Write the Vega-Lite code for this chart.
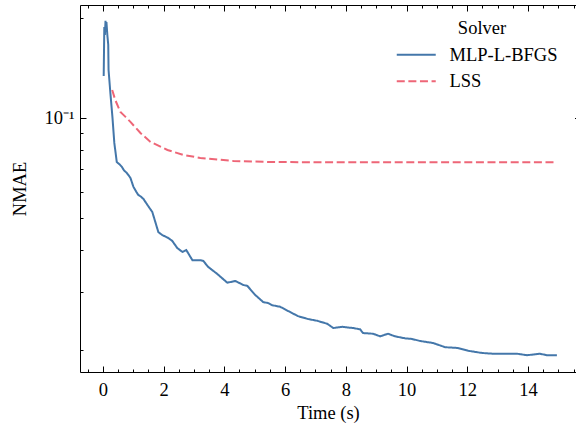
{
  "$schema": "https://vega.github.io/schema/vega-lite/v6.json",
  "autosize": "none",
  "width": 496,
  "height": 367,
  "padding": {"left": 80, "top": 5, "right": 0, "bottom": 53},
  "background": "white",
  "data": {
    "values": [
      {"solver": "MLP-L-BFGS", "t": 0.03, "nmae": 0.1338},
      {"solver": "MLP-L-BFGS", "t": 0.05, "nmae": 0.1879},
      {"solver": "MLP-L-BFGS", "t": 0.07, "nmae": 0.1778},
      {"solver": "MLP-L-BFGS", "t": 0.09, "nmae": 0.196},
      {"solver": "MLP-L-BFGS", "t": 0.10, "nmae": 0.1815},
      {"solver": "MLP-L-BFGS", "t": 0.12, "nmae": 0.1945},
      {"solver": "MLP-L-BFGS", "t": 0.15, "nmae": 0.1778},
      {"solver": "MLP-L-BFGS", "t": 0.18, "nmae": 0.166},
      {"solver": "MLP-L-BFGS", "t": 0.19, "nmae": 0.1395},
      {"solver": "MLP-L-BFGS", "t": 0.25, "nmae": 0.1189},
      {"solver": "MLP-L-BFGS", "t": 0.32, "nmae": 0.1},
      {"solver": "MLP-L-BFGS", "t": 0.38, "nmae": 0.0841},
      {"solver": "MLP-L-BFGS", "t": 0.46, "nmae": 0.0737},
      {"solver": "MLP-L-BFGS", "t": 0.55, "nmae": 0.0725},
      {"solver": "MLP-L-BFGS", "t": 0.63, "nmae": 0.0712},
      {"solver": "MLP-L-BFGS", "t": 0.70, "nmae": 0.0695},
      {"solver": "MLP-L-BFGS", "t": 0.79, "nmae": 0.0683},
      {"solver": "MLP-L-BFGS", "t": 0.91, "nmae": 0.0660},
      {"solver": "MLP-L-BFGS", "t": 1.01, "nmae": 0.0620},
      {"solver": "MLP-L-BFGS", "t": 1.10, "nmae": 0.0600},
      {"solver": "MLP-L-BFGS", "t": 1.17, "nmae": 0.0586},
      {"solver": "MLP-L-BFGS", "t": 1.25, "nmae": 0.0580},
      {"solver": "MLP-L-BFGS", "t": 1.34, "nmae": 0.0570},
      {"solver": "MLP-L-BFGS", "t": 1.47, "nmae": 0.0547},
      {"solver": "MLP-L-BFGS", "t": 1.63, "nmae": 0.0521},
      {"solver": "MLP-L-BFGS", "t": 1.73, "nmae": 0.0486},
      {"solver": "MLP-L-BFGS", "t": 1.83, "nmae": 0.0453},
      {"solver": "MLP-L-BFGS", "t": 1.96, "nmae": 0.0444},
      {"solver": "MLP-L-BFGS", "t": 2.16, "nmae": 0.0435},
      {"solver": "MLP-L-BFGS", "t": 2.29, "nmae": 0.0426},
      {"solver": "MLP-L-BFGS", "t": 2.45, "nmae": 0.0406},
      {"solver": "MLP-L-BFGS", "t": 2.62, "nmae": 0.0395},
      {"solver": "MLP-L-BFGS", "t": 2.75, "nmae": 0.0400},
      {"solver": "MLP-L-BFGS", "t": 2.95, "nmae": 0.0373},
      {"solver": "MLP-L-BFGS", "t": 3.21, "nmae": 0.0373},
      {"solver": "MLP-L-BFGS", "t": 3.31, "nmae": 0.0371},
      {"solver": "MLP-L-BFGS", "t": 3.47, "nmae": 0.0356},
      {"solver": "MLP-L-BFGS", "t": 3.77, "nmae": 0.0339},
      {"solver": "MLP-L-BFGS", "t": 4.10, "nmae": 0.0319},
      {"solver": "MLP-L-BFGS", "t": 4.36, "nmae": 0.0323},
      {"solver": "MLP-L-BFGS", "t": 4.63, "nmae": 0.0314},
      {"solver": "MLP-L-BFGS", "t": 4.76, "nmae": 0.0312},
      {"solver": "MLP-L-BFGS", "t": 5.02, "nmae": 0.0293},
      {"solver": "MLP-L-BFGS", "t": 5.28, "nmae": 0.0279},
      {"solver": "MLP-L-BFGS", "t": 5.45, "nmae": 0.0277},
      {"solver": "MLP-L-BFGS", "t": 5.58, "nmae": 0.0273},
      {"solver": "MLP-L-BFGS", "t": 5.84, "nmae": 0.0270},
      {"solver": "MLP-L-BFGS", "t": 6.11, "nmae": 0.0262},
      {"solver": "MLP-L-BFGS", "t": 6.43, "nmae": 0.0253},
      {"solver": "MLP-L-BFGS", "t": 6.76, "nmae": 0.0248},
      {"solver": "MLP-L-BFGS", "t": 7.06, "nmae": 0.0245},
      {"solver": "MLP-L-BFGS", "t": 7.39, "nmae": 0.0240},
      {"solver": "MLP-L-BFGS", "t": 7.59, "nmae": 0.0233},
      {"solver": "MLP-L-BFGS", "t": 7.88, "nmae": 0.0235},
      {"solver": "MLP-L-BFGS", "t": 8.24, "nmae": 0.0233},
      {"solver": "MLP-L-BFGS", "t": 8.47, "nmae": 0.0231},
      {"solver": "MLP-L-BFGS", "t": 8.57, "nmae": 0.0225},
      {"solver": "MLP-L-BFGS", "t": 8.90, "nmae": 0.0224},
      {"solver": "MLP-L-BFGS", "t": 9.13, "nmae": 0.0220},
      {"solver": "MLP-L-BFGS", "t": 9.39, "nmae": 0.0224},
      {"solver": "MLP-L-BFGS", "t": 9.62, "nmae": 0.0220},
      {"solver": "MLP-L-BFGS", "t": 9.95, "nmae": 0.0217},
      {"solver": "MLP-L-BFGS", "t": 10.18, "nmae": 0.0216},
      {"solver": "MLP-L-BFGS", "t": 10.45, "nmae": 0.0213},
      {"solver": "MLP-L-BFGS", "t": 10.88, "nmae": 0.0210},
      {"solver": "MLP-L-BFGS", "t": 11.27, "nmae": 0.0204},
      {"solver": "MLP-L-BFGS", "t": 11.67, "nmae": 0.0203},
      {"solver": "MLP-L-BFGS", "t": 12.03, "nmae": 0.0199},
      {"solver": "MLP-L-BFGS", "t": 12.49, "nmae": 0.0196},
      {"solver": "MLP-L-BFGS", "t": 12.85, "nmae": 0.0195},
      {"solver": "MLP-L-BFGS", "t": 13.18, "nmae": 0.0195},
      {"solver": "MLP-L-BFGS", "t": 13.64, "nmae": 0.0195},
      {"solver": "MLP-L-BFGS", "t": 13.97, "nmae": 0.0193},
      {"solver": "MLP-L-BFGS", "t": 14.39, "nmae": 0.0195},
      {"solver": "MLP-L-BFGS", "t": 14.62, "nmae": 0.0193},
      {"solver": "MLP-L-BFGS", "t": 14.95, "nmae": 0.0193},
      {"solver": "LSS", "t": 0.31, "nmae": 0.1214},
      {"solver": "LSS", "t": 0.41, "nmae": 0.1133},
      {"solver": "LSS", "t": 0.58, "nmae": 0.1042},
      {"solver": "LSS", "t": 0.74, "nmae": 0.1009},
      {"solver": "LSS", "t": 0.91, "nmae": 0.0973},
      {"solver": "LSS", "t": 1.24, "nmae": 0.0901},
      {"solver": "LSS", "t": 1.57, "nmae": 0.0847},
      {"solver": "LSS", "t": 2.13, "nmae": 0.0801},
      {"solver": "LSS", "t": 2.65, "nmae": 0.0774},
      {"solver": "LSS", "t": 3.21, "nmae": 0.0758},
      {"solver": "LSS", "t": 4.30, "nmae": 0.0742},
      {"solver": "LSS", "t": 5.41, "nmae": 0.0737},
      {"solver": "LSS", "t": 6.5, "nmae": 0.0736},
      {"solver": "LSS", "t": 8.0, "nmae": 0.0735},
      {"solver": "LSS", "t": 10.0, "nmae": 0.0735},
      {"solver": "LSS", "t": 12.0, "nmae": 0.0735},
      {"solver": "LSS", "t": 14.0, "nmae": 0.0735},
      {"solver": "LSS", "t": 14.95, "nmae": 0.0735}
    ]
  },
  "resolve": {"axis": {"x": "independent", "y": "independent"}},
  "layer": [
    {
      "mark": {"type": "line", "strokeWidth": 2, "clip": true},
      "encoding": {
        "x": {"field": "t", "type": "quantitative",
          "scale": {"domain": [-0.75, 15.579], "nice": false, "zero": false},
          "axis": {"orient": "bottom", "values": [0, 2, 4, 6, 8, 10, 12, 14], "ticks": false, "tickSize": 0, "domain": true, "labelPadding": 8, "labelFlush": false, "title": "Time (s)", "titlePadding": 5}},
        "y": {"field": "nmae", "type": "quantitative",
          "scale": {"type": "log", "domain": [0.01718, 0.2188], "nice": false, "zero": false},
          "axis": {"orient": "left", "values": [0.1], "labelExpr": "'10⁻¹'", "ticks": false, "tickSize": 0, "domain": true, "labelPadding": 6, "labelFlush": false, "title": "NMAE", "titlePadding": 14}},
        "color": {"field": "solver", "type": "nominal",
          "scale": {"domain": ["MLP-L-BFGS", "LSS"], "range": ["#4477AA", "#EE6677"]},
          "legend": {"title": "Solver", "orient": "none", "legendX": 327, "legendY": 14, "symbolType": "M-4,0H4", "symbolSize": 95, "symbolStrokeWidth": 2, "symbolFillColor": "transparent", "labelOffset": 24, "rowPadding": 7.5, "titleAnchor": "middle", "titlePadding": 8}},
        "strokeDash": {"field": "solver", "type": "nominal",
          "scale": {"domain": ["MLP-L-BFGS", "LSS"], "range": [[1, 0], [8, 3.6]]},
          "legend": {"title": "Solver", "orient": "none", "legendX": 327, "legendY": 14, "symbolType": "M-4,0H4", "symbolSize": 95, "symbolStrokeWidth": 2, "symbolFillColor": "transparent", "labelOffset": 24, "rowPadding": 7.5, "titleAnchor": "middle", "titlePadding": 8}}
      }
    },
    {
      "mark": {"type": "point", "opacity": 0},
      "encoding": {
        "x": {"field": "t", "type": "quantitative",
          "scale": {"domain": [-0.75, 15.579], "nice": false, "zero": false},
          "axis": {"orient": "bottom", "values": [0, 2, 4, 6, 8, 10, 12, 14], "tickSize": -6, "domain": false, "labels": false, "title": null}},
        "y": {"field": "nmae", "type": "quantitative",
          "scale": {"type": "log", "domain": [0.01718, 0.2188], "nice": false, "zero": false},
          "axis": {"orient": "left", "values": [0.1], "tickSize": -6, "domain": false, "labels": false, "title": null}}
      }
    },
    {
      "mark": {"type": "point", "opacity": 0},
      "encoding": {
        "x": {"field": "t", "type": "quantitative",
          "scale": {"domain": [-0.75, 15.579], "nice": false, "zero": false},
          "axis": {"orient": "bottom", "values": [-0.5, 0.5, 1, 1.5, 2.5, 3, 3.5, 4.5, 5, 5.5, 6.5, 7, 7.5, 8.5, 9, 9.5, 10.5, 11, 11.5, 12.5, 13, 13.5, 14.5, 15, 15.5], "tickSize": -3, "domain": false, "labels": false, "title": null}},
        "y": {"field": "nmae", "type": "quantitative",
          "scale": {"type": "log", "domain": [0.01718, 0.2188], "nice": false, "zero": false},
          "axis": {"orient": "left", "values": [0.02, 0.03, 0.04, 0.05, 0.06, 0.07, 0.08, 0.09, 0.2], "tickSize": -3, "domain": false, "labels": false, "title": null}}
      }
    },
    {
      "mark": {"type": "point", "opacity": 0},
      "encoding": {
        "x": {"field": "t", "type": "quantitative",
          "scale": {"domain": [-0.75, 15.579], "nice": false, "zero": false},
          "axis": {"orient": "top", "values": [0, 2, 4, 6, 8, 10, 12, 14], "tickSize": -6, "domain": true, "labels": false, "title": null}},
        "y": {"field": "nmae", "type": "quantitative",
          "scale": {"type": "log", "domain": [0.01718, 0.2188], "nice": false, "zero": false},
          "axis": {"orient": "right", "values": [0.1], "tickSize": -1.5, "domain": false, "labels": false, "title": null}}
      }
    },
    {
      "mark": {"type": "point", "opacity": 0},
      "encoding": {
        "x": {"field": "t", "type": "quantitative",
          "scale": {"domain": [-0.75, 15.579], "nice": false, "zero": false},
          "axis": {"orient": "top", "values": [-0.5, 0.5, 1, 1.5, 2.5, 3, 3.5, 4.5, 5, 5.5, 6.5, 7, 7.5, 8.5, 9, 9.5, 10.5, 11, 11.5, 12.5, 13, 13.5, 14.5, 15, 15.5], "tickSize": -3, "domain": false, "labels": false, "title": null}},
        "y": {"field": "nmae", "type": "quantitative",
          "scale": {"type": "log", "domain": [0.01718, 0.2188], "nice": false, "zero": false},
          "axis": null}
      }
    }
  ],
  "config": {
    "view": {"stroke": null},
    "axis": {"grid": false, "labelFont": "Liberation Serif", "titleFont": "Liberation Serif", "labelFontSize": 18.5, "titleFontSize": 18.5, "labelColor": "black", "titleColor": "black", "titleFontWeight": "normal", "domainColor": "black", "tickColor": "black", "tickWidth": 1, "domainWidth": 1},
    "legend": {"labelFont": "Liberation Serif", "titleFont": "Liberation Serif", "labelFontSize": 18.5, "titleFontSize": 18.5, "labelColor": "black", "titleColor": "black", "titleFontWeight": "normal"}
  }
}
